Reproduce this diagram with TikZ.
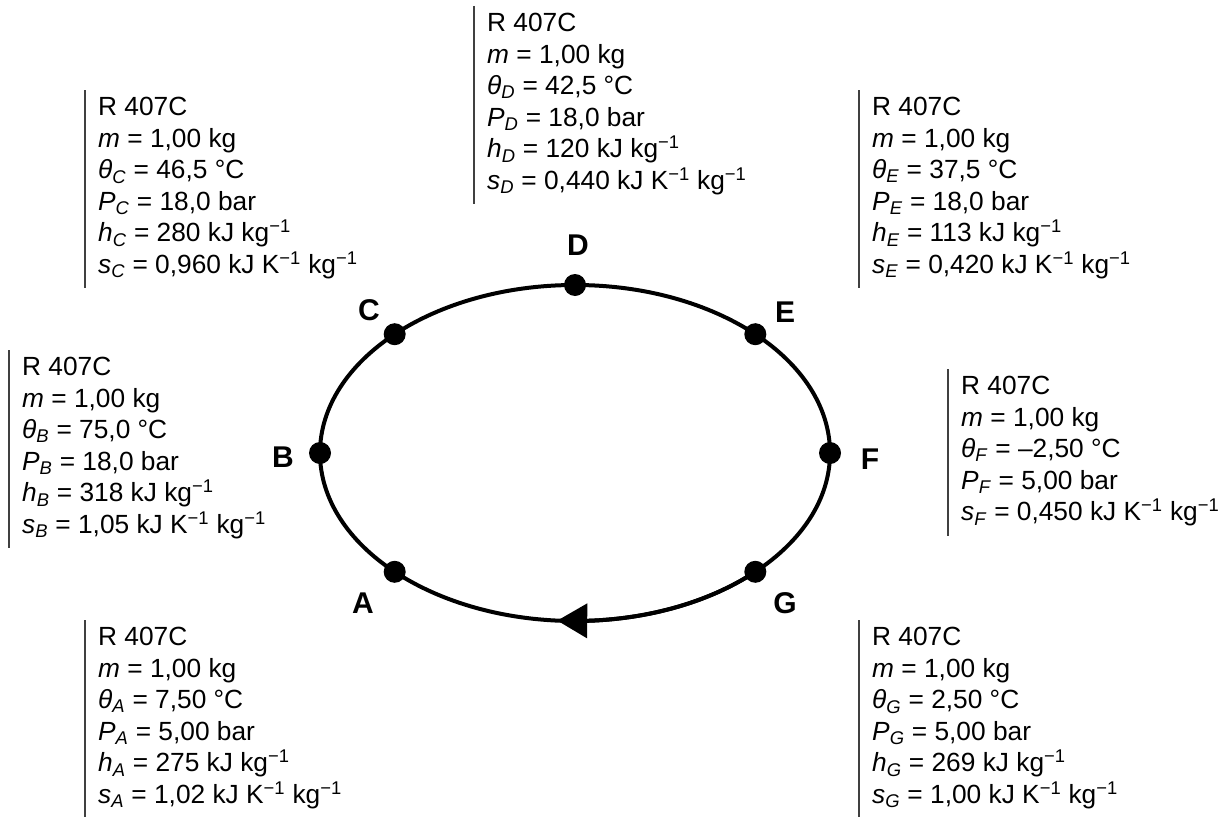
\documentclass[tikz,border=0pt]{standalone}
\usepackage{fontspec}
\setmainfont{Liberation Sans}
\usetikzlibrary{arrows.meta,bending}
\newcommand{\datafont}{\fontsize{26.3}{31.6}\selectfont}
\newcommand{\sbs}[1]{\textsubscript{\textit{#1}}}
\newcommand{\inv}{\textsuperscript{−1}}
\tikzset{
  ring/.style={line width=4pt},
  dot/.style={circle, fill=black, minimum size=22pt, inner sep=0pt},
  lbl/.style={font=\fontsize{30}{36}\selectfont\bfseries, inner sep=0pt},
  data/.style={anchor=north west, align=left, inner sep=0pt, font=\datafont},
  bar/.style={draw=black!75, line width=1.3pt},
}

\begin{document}
\begin{tikzpicture}[x=1pt, y=-1pt]
  \useasboundingbox (0,0) rectangle (1225,816);

  % the cycle and its states
  \coordinate (cen) at (575,453);
  \draw[ring] (cen) ellipse [x radius=255pt, y radius=168pt];
  \foreach \p/\a in {A/225, B/180, C/135, D/90, E/45, F/0, G/315}
    \node[dot] (p\p) at ([shift={(\a:255pt and 168pt)}]cen) {};
  \draw[ring, -{Triangle[length=30pt, width=34pt, flex]}] (pG.center)
    arc [start angle=315, end angle=266, x radius=255pt, y radius=168pt];

  % state letters
  \node[lbl] (lA) at (363,603) {A};
  \node[lbl] (lB) at (283,457) {B};
  \node[lbl] (lC) at (369,310) {C};
  \node[lbl] (lD) at (578,245) {D};
  \node[lbl] (lE) at (785,312) {E};
  \node[lbl] (lF) at (870,459) {F};
  \node[lbl] (lG) at (785,603) {G};

  % state data
  \node[data] (dD) at (487,13) {R 407C\\\textit{m} = 1,00 kg\\\textit{θ}\sbs{D} = 42,5 °C\\\textit{P}\sbs{D} = 18,0 bar\\\textit{h}\sbs{D} = 120 kJ kg\inv\\\textit{s}\sbs{D} = 0,440 kJ K\inv{} kg\inv};
  \node[data] (dC) at (98,97) {R 407C\\\textit{m} = 1,00 kg\\\textit{θ}\sbs{C} = 46,5 °C\\\textit{P}\sbs{C} = 18,0 bar\\\textit{h}\sbs{C} = 280 kJ kg\inv\\\textit{s}\sbs{C} = 0,960 kJ K\inv{} kg\inv};
  \node[data] (dE) at (872,97) {R 407C\\\textit{m} = 1,00 kg\\\textit{θ}\sbs{E} = 37,5 °C\\\textit{P}\sbs{E} = 18,0 bar\\\textit{h}\sbs{E} = 113 kJ kg\inv\\\textit{s}\sbs{E} = 0,420 kJ K\inv{} kg\inv};
  \node[data] (dB) at (22,357) {R 407C\\\textit{m} = 1,00 kg\\\textit{θ}\sbs{B} = 75,0 °C\\\textit{P}\sbs{B} = 18,0 bar\\\textit{h}\sbs{B} = 318 kJ kg\inv\\\textit{s}\sbs{B} = 1,05 kJ K\inv{} kg\inv};
  \node[data] (dF) at (961,376) {R 407C\\\textit{m} = 1,00 kg\\\textit{θ}\sbs{F} = –2,50 °C\\\textit{P}\sbs{F} = 5,00 bar\\\textit{s}\sbs{F} = 0,450 kJ K\inv{} kg\inv};
  \node[data] (dA) at (98,627) {R 407C\\\textit{m} = 1,00 kg\\\textit{θ}\sbs{A} = 7,50 °C\\\textit{P}\sbs{A} = 5,00 bar\\\textit{h}\sbs{A} = 275 kJ kg\inv\\\textit{s}\sbs{A} = 1,02 kJ K\inv{} kg\inv};
  \node[data] (dG) at (872,627) {R 407C\\\textit{m} = 1,00 kg\\\textit{θ}\sbs{G} = 2,50 °C\\\textit{P}\sbs{G} = 5,00 bar\\\textit{h}\sbs{G} = 269 kJ kg\inv\\\textit{s}\sbs{G} = 1,00 kJ K\inv{} kg\inv};

  % bars beside the data
  \foreach \n in {dA,dB,dC,dD,dE,dF,dG}
    \draw[bar] ([shift={(-13pt,7pt)}]\n.north west) -- ([shift={(-13pt,-9pt)}]\n.south west);
\end{tikzpicture}
\end{document}
